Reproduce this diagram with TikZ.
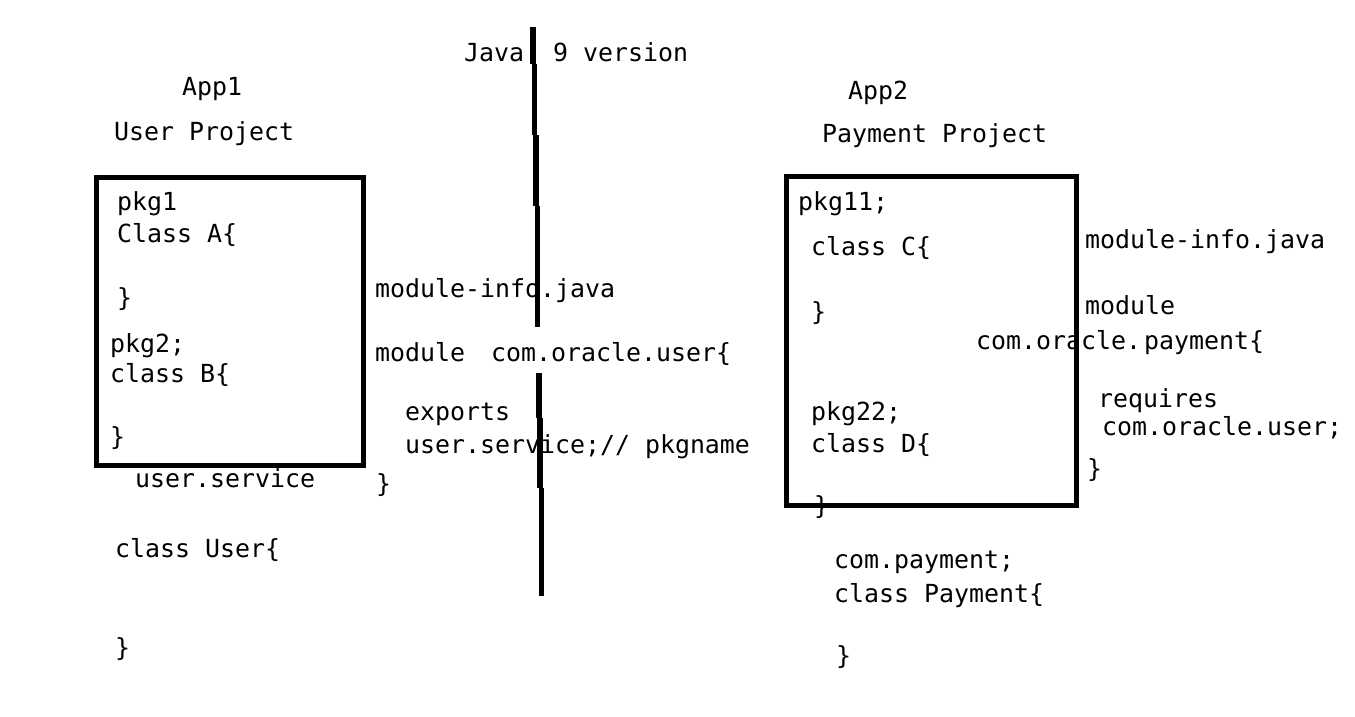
\documentclass[tikz,border=0pt]{standalone}
\usepackage{fontspec}
\newfontfamily\codefont{DejaVu Sans Mono}
\usetikzlibrary{calc}
\tikzset{
	code/.style={font=\codefont\fontsize{24.9}{30}\selectfont, anchor=base west, inner sep=0pt},
	vline/.style={line width=5.5pt, line cap=butt},
	pbox/.style={line width=5pt}
}

\begin{document}
\begin{tikzpicture}[x=1pt, y=-1pt]
			%%%%% START %%%%%
			\useasboundingbox[fill=white] (0, 0) rectangle (1355, 716);
			
			% left side: App1
			\node[code] (app1) at (182, 95) {App1};
			\node[code] (userproj) at (114, 140) {User Project};
			
			\node[code] (pkg1) at (117, 210) {pkg1};
			\node[code] (classa) at (117, 242) {Class A\{};
			\node[code] (enda) at (117, 306) {\}};
			\node[code] (pkg2) at (110, 352) {pkg2;};
			\node[code] (classb) at (110, 382) {class B\{};
			\node[code] (endb) at (110, 445) {\}};
			\draw[pbox] (96, 177) rectangle (363, 465);
			
			\node[code] (usersvc) at (135, 487) {user.service};
			\node[code] (classuser) at (115, 557) {class User\{};
			\node[code] (enduser) at (115, 656) {\}};
			
			% module-info of App1
			\node[code] (minfo1) at (375, 297) {module-info.java};
			\node[code] (module1) at (375, 361) {module};
			\node[code] (exports) at (405, 420) {exports};
			\node[code] (svcname) at (405, 453) {user.service;// pkgname};
			\node[code] (endmod1) at (376, 492) {\}};
			
			% dividing line
			\node[code] (java) at (464, 61) {Java};
			\node[code] (version) at (553, 61) {9 version};
			\draw[vline] (533, 27) -- (533, 64);
			\draw[vline] (534.5, 64) -- (534.5, 135);
			\draw[vline] (536, 135) -- (536, 206);
			\draw[vline] (537.5, 206) -- (537.5, 327);
			\draw[vline] (539, 373) -- (539, 418);
			\draw[vline] (540, 418) -- (540, 488);
			\draw[vline] (541.5, 488) -- (541.5, 596);
			\node[code, fill=white, inner xsep=1pt, inner ysep=2pt] (modname1) at (490, 361) {com.oracle.user\{};
			
			% right side: App2
			\node[code] (app2) at (848, 99) {App2};
			\node[code] (payproj) at (822, 142) {Payment Project};
			
			\node[code] (pkg11) at (798, 210) {pkg11;};
			\node[code] (classc) at (811, 255) {class C\{};
			\node[code] (endc) at (811, 320) {\}};
			\node[code] (pkg22) at (811, 420) {pkg22;};
			\node[code] (classd) at (811, 452) {class D\{};
			\node[code] (endd) at (814, 514) {\}};
			\node[code] (modname2) at (976, 349) {com.oracle.\kern3pt payment\{};
			\draw[pbox] (786, 176) rectangle (1076, 505);
			
			\node[code] (compay) at (834, 568) {com.payment;};
			\node[code] (classpay) at (834, 602) {class Payment\{};
			\node[code] (endpay) at (836, 664) {\}};
			
			% module-info of App2
			\node[code] (minfo2) at (1085, 248) {module-info.java};
			\node[code] (module2) at (1085, 314) {module};
			\node[code] (requires) at (1098, 407) {requires};
			\node[code] (reqname) at (1102, 435) {com.oracle.user;};
			\node[code] (endmod2) at (1087, 477) {\}};
			%%%%% END %%%%%
\end{tikzpicture}
\end{document}
